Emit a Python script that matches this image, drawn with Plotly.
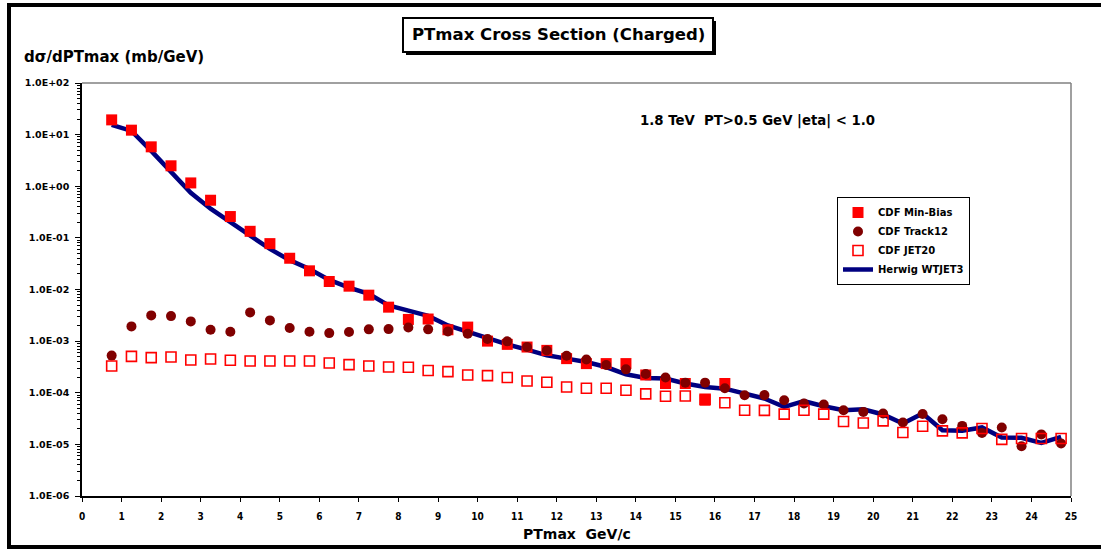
import plotly.graph_objects as go

# ---------------- data ----------------
pt_minbias = [0.75, 1.25, 1.75, 2.25, 2.75, 3.25, 3.75, 4.25, 4.75, 5.25, 5.75, 6.25,
              6.75, 7.25, 7.75, 8.25, 8.75, 9.25, 9.75, 10.25, 10.75, 11.25, 11.75,
              12.25, 12.75, 13.25, 13.75, 14.25, 14.75, 15.25, 15.75, 16.25]
pt_all = [0.75, 1.25, 1.75, 2.25, 2.75, 3.25, 3.75, 4.25, 4.75, 5.25, 5.75, 6.25,
          6.75, 7.25, 7.75, 8.25, 8.75, 9.25, 9.75, 10.25, 10.75, 11.25, 11.75,
          12.25, 12.75, 13.25, 13.75, 14.25, 14.75, 15.25, 15.75, 16.25, 16.75,
          17.25, 17.75, 18.25, 18.75, 19.25, 19.75, 20.25, 20.75, 21.25, 21.75,
          22.25, 22.75, 23.25, 23.75, 24.25, 24.75]

cdf_minbias = [19.3, 12.2, 5.8, 2.49, 1.16, 0.536, 0.259, 0.134, 0.0774, 0.0403, 0.023,
               0.0143, 0.0116, 0.00777, 0.00455, 0.00263, 0.00268, 0.00166, 0.00187,
               0.00100, 8.65e-4, 7.68e-4, 6.62e-4, 4.58e-4, 3.67e-4, 3.67e-4, 3.67e-4,
               2.21e-4, 1.51e-4, 1.51e-4, 7.16e-5, 1.51e-4]

cdf_track12 = [5.24e-4, 1.93e-3, 3.15e-3, 3.05e-3, 2.41e-3, 1.66e-3, 1.52e-3, 3.60e-3,
               2.52e-3, 1.79e-3, 1.52e-3, 1.43e-3, 1.50e-3, 1.69e-3, 1.71e-3, 1.84e-3,
               1.69e-3, 1.54e-3, 1.39e-3, 1.10e-3, 9.9e-4, 7.7e-4, 6.6e-4, 5.2e-4,
               4.4e-4, 3.44e-4, 2.84e-4, 2.31e-4, 1.97e-4, 1.57e-4, 1.57e-4, 1.22e-4,
               8.95e-5, 9.0e-5, 7.16e-5, 6.18e-5, 5.91e-5, 4.59e-5, 4.26e-5, 3.97e-5,
               2.66e-5, 3.89e-5, 3.07e-5, 2.28e-5, 1.67e-5, 2.13e-5, 9.2e-6, 1.56e-5,
               1.04e-5]

cdf_jet20 = [3.30e-4, 5.07e-4, 4.79e-4, 4.92e-4, 4.31e-4, 4.50e-4, 4.25e-4, 4.12e-4,
             4.12e-4, 4.12e-4, 4.12e-4, 3.76e-4, 3.51e-4, 3.30e-4, 3.15e-4, 3.11e-4,
             2.69e-4, 2.57e-4, 2.21e-4, 2.15e-4, 1.97e-4, 1.69e-4, 1.60e-4, 1.29e-4,
             1.22e-4, 1.22e-4, 1.12e-4, 9.5e-5, 8.56e-5, 8.67e-5, 7.5e-5, 6.41e-5,
             4.59e-5, 4.55e-5, 3.85e-5, 4.59e-5, 3.85e-5, 2.77e-5, 2.60e-5, 2.85e-5,
             1.70e-5, 2.25e-5, 1.83e-5, 1.67e-5, 2.03e-5, 1.25e-5, 1.30e-5, 1.30e-5,
             1.30e-5]

herwig_wtjet3 = [15.4, 11.8, 4.85, 1.91, 0.749, 0.367, 0.200, 0.110, 0.061, 0.037, 0.025,
                 0.0153, 0.0109, 0.00826, 0.00491, 0.0039, 0.00308, 0.00201, 0.00150,
                 0.00112, 8.65e-4, 6.84e-4, 5.31e-4, 4.58e-4, 3.94e-4, 3.15e-4, 2.28e-4,
                 1.93e-4, 1.88e-4, 1.51e-4, 1.29e-4, 1.20e-4, 9.5e-5, 7.73e-5, 5.32e-5,
                 6.86e-5, 5.48e-5, 4.59e-5, 4.80e-5, 3.79e-5, 2.54e-5, 3.97e-5, 1.88e-5,
                 1.83e-5, 2.13e-5, 1.36e-5, 1.34e-5, 1.07e-5, 1.40e-5]

y_tick_values = [1e-6, 1e-5, 1e-4, 1e-3, 1e-2, 1e-1, 1e0, 1e1, 1e2]
y_tick_labels = ["1.0E-06", "1.0E-05", "1.0E-04", "1.0E-03", "1.0E-02",
                 "1.0E-01", "1.0E+00", "1.0E+01", "1.0E+02"]
x_tick_values = list(range(0, 26))
x_tick_labels = [str(v) for v in x_tick_values]

# ---------------- layout helpers (pixel -> paper) ----------------
W, H = 1101, 553
L, R, T, B = 82, 1071, 83, 496


def px(x):
    return (x - L) / (R - L)


def py(y):
    return (B - y) / (B - T)


SANS = "Liberation Sans"
WIDE = "DejaVu Sans"
NARROW = "Liberation Sans Narrow, DejaVu Sans Condensed, Liberation Sans"

fig = go.Figure()

fig.add_trace(go.Scatter(
    x=pt_all, y=herwig_wtjet3, name="Herwig WTJET3", mode="lines",
    line=dict(color="#000080", width=4.5), legendrank=4))
fig.add_trace(go.Scatter(
    x=pt_minbias, y=cdf_minbias, name="CDF Min-Bias", mode="markers",
    marker=dict(symbol="square", size=11, color="#FF0000", line=dict(width=0)),
    legendrank=1))
fig.add_trace(go.Scatter(
    x=pt_all, y=cdf_track12, name="CDF Track12", mode="markers",
    marker=dict(symbol="circle", size=10, color="#800000", line=dict(width=0)),
    legendrank=2))
fig.add_trace(go.Scatter(
    x=pt_all, y=cdf_jet20, name="CDF JET20", mode="markers",
    marker=dict(symbol="square-open", size=10, color="#FF0000", line=dict(width=1.6)),
    legendrank=3))

fig.update_layout(
    width=W, height=H,
    margin=dict(l=L, r=W - R, t=T, b=H - B),
    paper_bgcolor="white", plot_bgcolor="white",
    showlegend=True,
    legend=dict(
        x=px(837), y=py(197), xanchor="left", yanchor="top",
        bgcolor="white", bordercolor="black", borderwidth=1,
        font=dict(family=WIDE, size=10, color="black", weight="bold"),
        itemwidth=30, tracegroupgap=0,
    ),
    xaxis=dict(
        range=[0, 25], tickmode="array", tickvals=x_tick_values, ticktext=x_tick_labels,
        showgrid=False, zeroline=False, showline=True, linecolor="black", linewidth=1.5,
        ticks="outside", ticklen=4, tickcolor="black", ticklabelstandoff=6,
        tickfont=dict(family=NARROW, size=10, color="black", weight="bold"),
    ),
    yaxis=dict(
        type="log", range=[-6, 2], tickmode="array", tickvals=y_tick_values,
        ticktext=y_tick_labels,
        showgrid=False, zeroline=False, showline=True, linecolor="black", linewidth=1.5,
        ticks="outside", ticklen=5, tickcolor="black", ticklabelstandoff=4,
        tickfont=dict(family=WIDE, size=9.5, color="black", weight="bold"),
        minor=dict(ticks="outside", ticklen=3, tickcolor="black", dtick="D1", showgrid=False),
    ),
)

shapes = [
    # outer frame
    dict(type="rect", xref="paper", yref="paper", x0=px(9), x1=px(1120), y0=py(5), y1=py(547),
         line=dict(color="black", width=4), fillcolor="rgba(0,0,0,0)"),
    # plot area top/right border (grey)
    dict(type="line", xref="paper", yref="paper", x0=0, x1=1, y0=1, y1=1,
         line=dict(color="#808080", width=1.5)),
    dict(type="line", xref="paper", yref="paper", x0=1, x1=1, y0=0, y1=1,
         line=dict(color="#808080", width=1.5)),
    # title box shadow + box
    dict(type="rect", xref="paper", yref="paper", x0=px(406), x1=px(716), y0=py(21), y1=py(55),
         line=dict(width=0), fillcolor="black"),
    dict(type="rect", xref="paper", yref="paper", x0=px(403), x1=px(713), y0=py(18), y1=py(52),
         line=dict(color="black", width=2), fillcolor="white"),
]
fig.update_layout(shapes=shapes)

annotations = [
    dict(text="PTmax Cross Section (Charged)", x=px(558), y=py(35), xref="paper", yref="paper",
         xanchor="center", yanchor="middle", showarrow=False,
         font=dict(family=WIDE, size=16.5, color="black", weight="bold")),
    dict(text="dσ/dPTmax (mb/GeV)", x=px(22), y=py(57), xref="paper", yref="paper",
         xanchor="left", yanchor="middle", showarrow=False,
         font=dict(family=WIDE, size=15, color="black", weight="bold")),
    dict(text="1.8 TeV  PT>0.5 GeV |eta| < 1.0", x=px(638), y=py(121), xref="paper", yref="paper",
         xanchor="left", yanchor="middle", showarrow=False,
         font=dict(family=WIDE, size=13.3, color="black", weight="bold")),
    dict(text="PTmax  GeV/c", x=px(577), y=py(534), xref="paper", yref="paper",
         xanchor="center", yanchor="middle", showarrow=False,
         font=dict(family=WIDE, size=14, color="black", weight="bold")),
]
fig.update_layout(annotations=annotations)

fig.write_html("out.html", config={"displayModeBar": False},
               post_script="document.body.style.margin='0';")
